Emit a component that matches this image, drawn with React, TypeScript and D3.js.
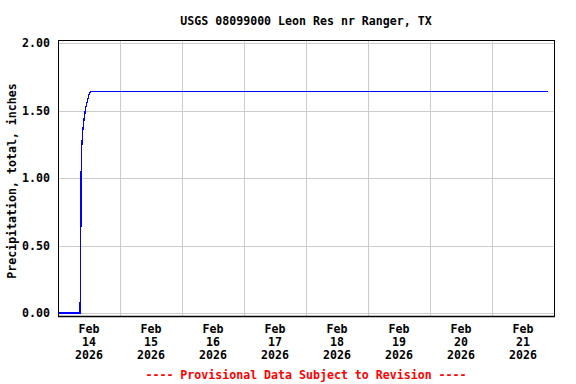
import React from "react";
import * as d3 from "d3";

const TITLE = "USGS 08099000 Leon Res nr Ranger, TX";
const Y_LABEL = "Precipitation, total, inches";
const FOOTER = "---- Provisional Data Subject to Revision ----";

// observation times (Feb 2026) and cumulative precipitation, inches
const times: string[] = [
  "2026-02-14T00:00", "2026-02-14T08:30", "2026-02-14T08:45", "2026-02-14T09:00",
  "2026-02-14T09:15", "2026-02-14T09:30", "2026-02-14T09:45", "2026-02-14T10:00",
  "2026-02-14T10:15", "2026-02-14T10:30", "2026-02-14T10:45", "2026-02-14T11:00",
  "2026-02-14T11:15", "2026-02-14T11:30", "2026-02-14T11:45", "2026-02-14T12:00",
  "2026-02-14T12:15", "2026-02-14T12:30", "2026-02-21T21:45",
];
const values: number[] = [
  0.0, 0.0, 0.26, 1.16,
  1.25, 1.33, 1.38, 1.42,
  1.46, 1.49, 1.52, 1.54,
  1.56, 1.58, 1.6, 1.62,
  1.63, 1.64, 1.64,
];

const yTicks: number[] = [0, 0.5, 1.0, 1.5, 2.0];
const dayTicks: string[] = [
  "2026-02-14", "2026-02-15", "2026-02-16", "2026-02-17",
  "2026-02-18", "2026-02-19", "2026-02-20", "2026-02-21",
];
const xStart = "2026-02-14T00:00";
const xEnd = "2026-02-22T00:00";

const FONT = "'DejaVu Sans Mono', 'Liberation Mono', monospace";

export default function App() {
  const W = 576, H = 384;
  const L = 58, R = 554, T = 40, B = 316;
  const parse = (s: string) => new Date(s + (s.length === 10 ? "T00:00" : ""));
  const x = d3.scaleTime().domain([parse(xStart), parse(xEnd)]).range([L, R]);
  const y = d3.scaleLinear().domain([0, 2]).range([313, 43]);
  const data = times.map((t, i) => ({ t: parse(t), v: values[i] }));
  const line = d3.line<{ t: Date; v: number }>().x(d => x(d.t)).y(d => y(d.v));
  const fmtMon = d3.timeFormat("%b");
  const fmtDay = d3.timeFormat("%d");
  const fmtYear = d3.timeFormat("%Y");

  return (
    <svg width={W} height={H} style={{ position: "absolute", left: 0, top: 0, background: "#fff" }}
      fontFamily={FONT} fontWeight="bold" fontSize={11.6}>
      <rect x={0} y={0} width={W} height={H} fill="#fff" />
      <text x={(L + R) / 2} y={25} textAnchor="middle" fill="#000">{TITLE}</text>
      {/* grid */}
      {yTicks.map(v => (
        <line key={"gy" + v} x1={L} x2={R} y1={Math.round(y(v)) + 0.5} y2={Math.round(y(v)) + 0.5} stroke="#cccccc" />
      ))}
      {dayTicks.slice(1).map(d => {
        const xx = Math.round(x(parse(d))) + 0.5;
        return <line key={"gx" + d} x1={xx} x2={xx} y1={T} y2={B} stroke="#cccccc" />;
      })}
      {/* data */}
      <path d={line(data) || ""} fill="none" stroke="#0000ff" strokeWidth={1.3} shapeRendering="crispEdges" />
      {/* frame */}
      <rect x={L + 0.5} y={T + 0.5} width={R - L} height={B - T} fill="none" stroke="#000" strokeWidth={1} />
      <line x1={L} x2={R + 1} y1={B + 0.5} y2={B + 0.5} stroke="#000" strokeWidth={1.5} />
      {/* y tick labels */}
      {yTicks.map(v => (
        <text key={"ty" + v} x={50} y={y(v) + 4} textAnchor="end" fill="#000">{v.toFixed(2)}</text>
      ))}
      {/* x tick labels */}
      {dayTicks.map(d => {
        const t0 = parse(d);
        const cx = x(d3.timeHour.offset(t0, 12));
        return (
          <g key={"tx" + d}>
            <text x={cx} y={333} textAnchor="middle" fill="#000">{fmtMon(t0)}</text>
            <text x={cx} y={346} textAnchor="middle" fill="#000">{fmtDay(t0)}</text>
            <text x={cx} y={359} textAnchor="middle" fill="#000">{fmtYear(t0)}</text>
          </g>
        );
      })}
      <text transform={`translate(16,${(T + B) / 2 + 3}) rotate(-90)`} textAnchor="middle" fill="#000">{Y_LABEL}</text>
      <text x={(L + R) / 2} y={379} textAnchor="middle" fill="#ff0000">{FOOTER}</text>
    </svg>
  );
}
